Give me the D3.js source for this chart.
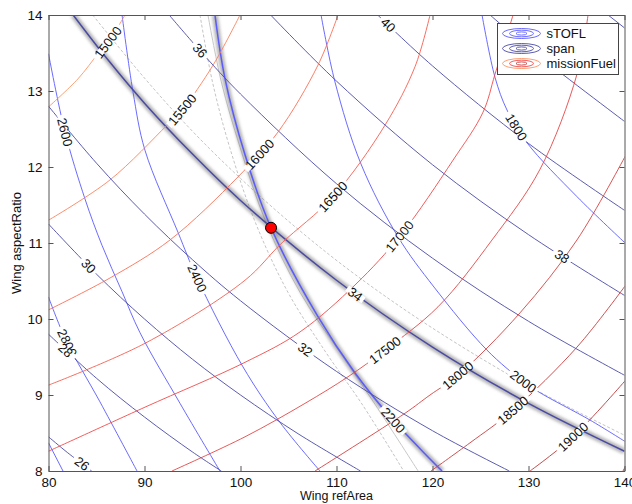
<!DOCTYPE html>
<html>
<head>
<meta charset="utf-8">
<script src="https://cdn.jsdelivr.net/npm/d3@7"></script>
<style>
body { margin: 0; background: #fff; }
text { font-family: "Liberation Sans", Arial, Helvetica, sans-serif; }
</style>
</head>
<body>
<div class="chart"></div>
<script>
// DATA ------------------------------------
const xTicks = [80, 90, 100, 110, 120, 130, 140];
const yTicks = [8, 9, 10, 11, 12, 13, 14];

// sTOFL contours, [refArea, aspectRatio] points
const stoflLevels = [1800, 2000, 2200, 2400, 2600, 2800, 3000];
const stoflLines = [
  [[125.16,14],[126.51,13.18],[127.76,12.75],[129.84,12.32],[135.05,11.61],[140.15,10.99]],
  [[108.39,14],[109.84,13.12],[112.55,12.04],[116.41,11.08],[120.16,10.42],[125.68,9.59],[129.43,9.18],[131.2,9.03],[136.41,8.67],[140.16,8.38]],
  [[97.34,14],[98.39,13.16],[100.47,12.16],[103.18,11.2],[108.07,10.03],[111.93,9.29],[115.89,8.67],[120.99,8.0]],
  [[87.66,14],[88.8,12.99],[90.05,12.22],[93.49,11.14],[95.47,10.54],[100.26,9.37],[104.11,8.64],[108.28,8.0]],
  [[80,13.49],[81.72,12.46],[83.8,11.58],[85.57,10.97],[87.66,10.36],[89.53,9.82],[93.7,8.89],[97.86,8.0]],
  [[80,10.29],[81.82,9.72],[85.36,8.91],[89.22,8.0]],
  [[80,8.37],[81.51,8.0]]
];
const stoflLabels = [[1800,128.8,12.53],[2000,129.43,9.17],[2200,115.89,8.67],[2400,95.47,10.54],[2600,81.72,12.46],[2800,81.82,9.68]];

// span contours
const spanLevels = [26, 28, 30, 32, 34, 36, 38, 40, 42, 44];
const spanLines = [
  [[80,8.45],[82,8.24],[84.5,8.0]],
  [[80,9.8],[85,9.22],[90,8.71],[95,8.25],[98,8.0]],
  [[80,11.25],[85,10.59],[90,10.0],[95,9.47],[100,9.0],[106,8.49],[112.5,8.0]],
  [[80,12.8],[85,12.05],[90,11.38],[95,10.78],[100,10.24],[110,9.31],[120,8.53],[128,8.0]],
  [[82.57,14],[86,13.44],[90,12.84],[95,12.17],[100,11.56],[110,10.51],[120,9.63],[130,8.89],[140,8.26]],
  [[92.57,14],[96,13.5],[100,12.96],[110,11.78],[120,10.8],[130,9.97],[140,9.26]],
  [[103.14,14],[110,13.13],[120,12.03],[130,11.11],[140,10.31]],
  [[114.29,14],[120,13.33],[130,12.31],[140,11.43]],
  [[126,14],[130,13.57],[140,12.6]],
  [[138.29,14],[140,13.83]]
];
const spanLabels = [[26,83.59,8.11],[28,82.03,9.62],[30,84.01,10.68],[32,106.72,9.59],[34,111.93,10.32],[36,95.57,13.51],[38,133.59,10.84],[40,115.16,13.84]];

// missionFuel contours
const fuelLevels = [15000, 15500, 16000, 16500, 17000, 17500, 18000, 18500, 19000, 19500];
const fuelLines = [
  [[80,12.79],[83.07,13.16],[85.16,13.49],[86.2,13.64],[87.97,14]],
  [[80,11.3],[86.41,11.83],[92.34,12.55],[93.91,12.75],[97.14,13.34],[99.95,14]],
  [[80,10.12],[86.41,10.54],[92.66,11.04],[99.74,11.87],[103.91,12.46],[108.07,13.34],[110.16,14]],
  [[80,9.13],[90.05,9.68],[100.47,10.51],[104.22,10.99],[109.64,11.61],[115.05,12.55],[118.18,13.32],[119.74,14]],
  [[80,8.26],[90.05,8.84],[100.47,9.43],[106.2,9.83],[112.03,10.46],[116.72,11.11],[122.14,12.09],[125.26,12.72],[126.51,13.22],[128.39,14]],
  [[92.86,8.0],[100.47,8.45],[106.72,8.89],[111.2,9.24],[115.05,9.59],[120.57,10.16],[126.2,11.04],[131.2,11.97],[135.05,13.22],[136.2,14]],
  [[107.76,8.0],[117.14,8.76],[119.74,9.0],[122.66,9.26],[129.11,10.08],[135.05,11.04],[140.15,12.16]],
  [[119.84,8.0],[123.9,8.37],[128.39,8.8],[135.05,9.63],[140.15,10.45]],
  [[130.16,8.0],[134.64,8.45],[140.15,9.2]],
  [[139.84,8.0],[140.15,8.07]]
];
const fuelLabels = [[15000,86.2,13.64],[15500,93.91,12.76],[16000,102.03,12.16],[16500,109.64,11.61],[17000,116.61,11.08],[17500,115.05,9.59],[18000,122.66,9.26],[18500,128.39,8.8],[19000,134.64,8.45]];

// active constraints (highlighted) and faint reference curves
const activeStofl = 2200;
const activeSpan = 34;
const refSolid = [[96.61,14],[98.0,13.12],[99.95,12.26],[102.66,11.27],[106.2,10.35],[110.36,9.56],[114.0,8.88],[118.5,8.0]];
const refDashedA = [[95.78,14],[97.08,13.12],[98.87,12.26],[101.55,11.27],[104.95,10.35],[108.9,9.56],[112.66,8.88],[117.0,8.0]];
const refDashedB = [[84.6,14],[90,13.17],[95,12.47],[100,11.85],[106,11.18],[112,10.58],[120,9.88],[130,9.12],[140,8.47]];

const optimum = [103.18, 11.2];

const legendNames = ["sTOFL", "span", "missionFuel"];

// CHART -----------------------------------
const W = 632, H = 504;
const x = d3.scaleLinear().domain([80, 140]).range([48.5, 624.5]);
const y = d3.scaleLinear().domain([8, 14]).range([471, 15]);

const svg = d3.select(".chart").append("svg")
  .attr("width", W).attr("height", H);

const defs = svg.append("defs");
defs.append("clipPath").attr("id", "plot")
  .append("rect").attr("x", x(80)).attr("y", y(14))
  .attr("width", x(140) - x(80)).attr("height", y(8) - y(14));
defs.append("filter").attr("id", "blur")
  .attr("x", "-20%").attr("y", "-20%").attr("width", "140%").attr("height", "140%")
  .append("feGaussianBlur").attr("stdDeviation", 1.6);

const line = d3.line()
  .x(d => x(d[0])).y(d => y(d[1]))
  .curve(d3.curveCatmullRom.alpha(0.5));

const plot = svg.append("g").attr("clip-path", "url(#plot)");

const stoflColor = "#5a5aff";
const spanColor = "#4a4aa6";
const fuelColor = d3.scaleLinear().domain([15000, 17000, 19500]).range(["#ff9462", "#f24a4a", "#ab3434"]);

// faint reference curves
plot.append("path").attr("d", line(refSolid)).attr("fill", "none")
  .attr("stroke", "#c9c9c9").attr("stroke-width", 1);
plot.append("path").attr("d", line(refDashedA)).attr("fill", "none")
  .attr("stroke", "#c4c4c4").attr("stroke-width", 1).attr("stroke-dasharray", "3,2");
plot.append("path").attr("d", line(refDashedB)).attr("fill", "none")
  .attr("stroke", "#c4c4c4").attr("stroke-width", 1).attr("stroke-dasharray", "3,2");

// halos under the active constraints
const activeData = [stoflLines[stoflLevels.indexOf(activeStofl)], spanLines[spanLevels.indexOf(activeSpan)]];
plot.selectAll(".halo").data(activeData).enter().append("path")
  .attr("class", "halo")
  .attr("d", line).attr("fill", "none")
  .attr("stroke", "#6e6e6e").attr("stroke-width", 6).attr("stroke-opacity", 0.5)
  .attr("filter", "url(#blur)");

const stoflPaths = plot.selectAll(".stofl").data(stoflLines).enter().append("path")
  .attr("class", "stofl").attr("d", line).attr("fill", "none")
  .attr("stroke", stoflColor)
  .attr("stroke-width", (d, i) => stoflLevels[i] === activeStofl ? 1.5 : 0.9);

const spanPaths = plot.selectAll(".span").data(spanLines).enter().append("path")
  .attr("class", "span").attr("d", line).attr("fill", "none")
  .attr("stroke", spanColor)
  .attr("stroke-width", (d, i) => spanLevels[i] === activeSpan ? 1.5 : 0.9);

const fuelPaths = plot.selectAll(".fuel").data(fuelLines).enter().append("path")
  .attr("class", "fuel").attr("d", line).attr("fill", "none")
  .attr("stroke", (d, i) => fuelColor(fuelLevels[i]))
  .attr("stroke-width", 0.9);

// contour labels, snapped to the nearest point of their line
function snap(node, px, py) {
  const L = node.getTotalLength();
  let best = 0, bd = Infinity;
  for (let s = 0; s <= L; s += 0.5) {
    const p = node.getPointAtLength(s);
    const dd = (p.x - px) ** 2 + (p.y - py) ** 2;
    if (dd < bd) { bd = dd; best = s; }
  }
  const p = node.getPointAtLength(best);
  const a0 = node.getPointAtLength(Math.max(0, best - 5));
  const a1 = node.getPointAtLength(Math.min(L, best + 5));
  let a = Math.atan2(a1.y - a0.y, a1.x - a0.x) * 180 / Math.PI;
  if (a > 90) a -= 180;
  if (a <= -90) a += 180;
  return { x: p.x, y: p.y, a: a };
}

const labelG = svg.append("g").attr("clip-path", "url(#plot)");
function addLabels(labels, levels, paths) {
  labels.forEach(l => {
    const node = paths.nodes()[levels.indexOf(l[0])];
    const s = snap(node, x(l[1]), y(l[2]));
    const g = labelG.append("g").attr("transform", `translate(${s.x},${s.y}) rotate(${s.a})`);
    const t = g.append("text").text(l[0])
      .attr("text-anchor", "middle").attr("dy", "0.35em")
      .attr("font-size", 13).attr("fill", "#111");
    const w = t.node().getComputedTextLength();
    g.insert("rect", "text").attr("x", -w / 2 - 3).attr("y", -3.5)
      .attr("width", w + 6).attr("height", 7).attr("fill", "#fff");
  });
}
addLabels(stoflLabels, stoflLevels, stoflPaths);
addLabels(spanLabels, spanLevels, spanPaths);
addLabels(fuelLabels, fuelLevels, fuelPaths);

// optimum point
svg.append("circle").attr("cx", x(optimum[0])).attr("cy", y(optimum[1]))
  .attr("r", 5.5).attr("fill", "#ff0000").attr("stroke", "#000").attr("stroke-width", 1);

// AXES ------------------------------------
const axisColor = "#555";
const xAxis = svg.append("g").attr("transform", `translate(0,${y(8)})`)
  .call(d3.axisBottom(x).tickValues(xTicks).tickSize(-5).tickSizeOuter(0).tickPadding(6).tickFormat(d3.format("d")));
const xTop = svg.append("g").attr("transform", `translate(0,${y(14)})`)
  .call(d3.axisTop(x).tickValues(xTicks).tickSize(-5).tickSizeOuter(0).tickFormat(""));
const yAxis = svg.append("g").attr("transform", `translate(${x(80)},0)`)
  .call(d3.axisLeft(y).tickValues(yTicks).tickSize(-5).tickSizeOuter(0).tickPadding(6).tickFormat(d3.format("d")));
const yRight = svg.append("g").attr("transform", `translate(${x(140)},0)`)
  .call(d3.axisRight(y).tickValues(yTicks).tickSize(-5).tickSizeOuter(0).tickFormat(""));

[xAxis, xTop, yAxis, yRight].forEach(a => {
  a.selectAll("path, line").attr("stroke", axisColor);
  a.selectAll("text").attr("font-size", 13.5).attr("fill", "#111")
    .attr("font-family", '"Liberation Sans", Arial, sans-serif');
});

svg.append("text").text("Wing refArea")
  .attr("x", (x(80) + x(140)) / 2).attr("y", 500)
  .attr("text-anchor", "middle").attr("font-size", 12.5).attr("fill", "#111");
svg.append("text").text("Wing aspectRatio")
  .attr("transform", `translate(21,${(y(8) + y(14)) / 2}) rotate(-90)`)
  .attr("text-anchor", "middle").attr("font-size", 13).attr("fill", "#111");

// LEGEND ----------------------------------
const lg = svg.append("g").attr("transform", "translate(497.5,23.5)");
lg.append("rect").attr("width", 121).attr("height", 51)
  .attr("fill", "#fff").attr("stroke", "#444").attr("stroke-width", 1);
const iconColors = [
  [stoflColor, stoflColor, stoflColor],
  [spanColor, spanColor, spanColor],
  [fuelColor(15000), fuelColor(17000), fuelColor(19000)]
];
legendNames.forEach((name, i) => {
  const cy = 10 + i * 15;
  [[19, 5], [12, 3.3], [5.5, 1.6]].forEach((r, j) => {
    lg.append("ellipse").attr("cx", 24).attr("cy", cy).attr("rx", r[0]).attr("ry", r[1])
      .attr("fill", "none").attr("stroke", iconColors[i][j]).attr("stroke-width", 0.9);
  });
  lg.append("text").text(name).attr("x", 49).attr("y", cy).attr("dy", "0.35em")
    .attr("font-size", 13).attr("fill", "#111");
});
</script>
</body>
</html>
